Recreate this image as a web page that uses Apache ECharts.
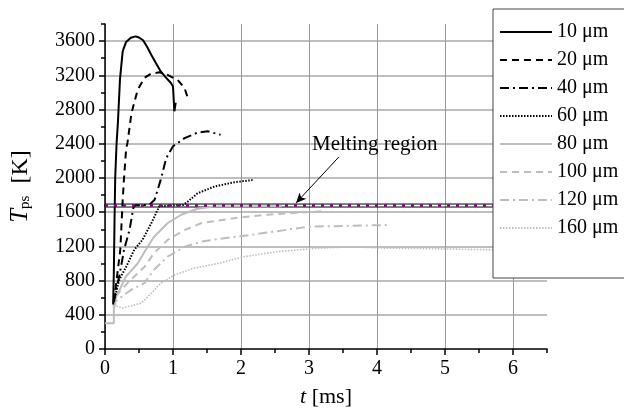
<!DOCTYPE html>
<html><head><meta charset="utf-8">
<script src="https://cdn.jsdelivr.net/npm/echarts@6/dist/echarts.min.js"></script>
<style>html,body{margin:0;padding:0;background:#fff}#c{width:624px;height:416px}</style>
</head><body><div id="c"></div>
<script>
const seriesNames = ['10 μm','20 μm','40 μm','60 μm','80 μm','100 μm','120 μm','160 μm'];
const xTicks = [0,1,2,3,4,5,6];
const yTicks = [0,400,800,1200,1600,2000,2400,2800,3200,3600];
const meltLow = 1660, meltHigh = 1695;
const d10 = [[0.12,520],[0.13,900],[0.14,1500],[0.15,2000],[0.17,2400],[0.19,2650],[0.22,3150],[0.26,3480],[0.31,3590],[0.38,3640],[0.45,3655],[0.5,3642],[0.56,3610],[0.62,3530],[0.68,3440],[0.75,3340],[0.82,3245],[0.9,3170],[0.97,3110],[1.0,3070],[1.02,2780],[1.04,2880]];
const d20 = [[0.13,550],[0.17,800],[0.2,1000],[0.225,1160],[0.26,1740],[0.28,2000],[0.31,2330],[0.33,2410],[0.39,2760],[0.48,3030],[0.58,3170],[0.68,3220],[0.8,3235],[0.92,3205],[1.07,3145],[1.17,3050],[1.22,2930]];
const d40 = [[0.13,550],[0.16,690],[0.21,850],[0.28,1160],[0.36,1390],[0.42,1660],[0.45,1680],[0.65,1685],[0.73,1745],[0.82,1980],[0.9,2230],[1.0,2370],[1.17,2465],[1.36,2530],[1.51,2545],[1.7,2505]];
const d60 = [[0.13,560],[0.16,650],[0.21,810],[0.31,960],[0.43,1160],[0.55,1275],[0.68,1470],[0.8,1670],[1.15,1685],[1.22,1725],[1.36,1820],[1.61,1900],[1.9,1950],[2.17,1975]];
const d80 = [[0,300],[0.13,300],[0.13,520],[0.16,600],[0.31,850],[0.48,1000],[0.6,1160],[0.72,1310],[0.92,1470],[1.12,1570],[1.36,1640],[1.6,1665],[2.6,1668]];
const d100 = [[0.13,480],[0.16,620],[0.33,770],[0.58,960],[0.72,1120],[0.92,1275],[1.17,1390],[1.41,1470],[1.9,1530],[2.39,1570],[2.88,1595],[3.2,1612]];
const d120 = [[0.13,480],[0.16,560],[0.38,690],[0.58,770],[0.72,925],[0.92,1080],[1.17,1195],[1.41,1255],[1.75,1295],[2.15,1335],[2.64,1390],[2.98,1430],[3.6,1440],[4.16,1450]];
const d160 = [[0.13,480],[0.17,500],[0.26,480],[0.53,535],[0.68,650],[0.82,770],[1.02,865],[1.31,945],[1.66,1000],[2.05,1080],[2.54,1140],[3.13,1178],[3.62,1195],[4.1,1180],[5.0,1170],[5.72,1160],[6.5,1160]];
const arrowFrom = [3.44,2246], arrowTo = [2.81,1708];

const datasets = [d10,d20,d40,d60,d80,d100,d120,d160];
const styles = [
  {color:'#000',type:'solid',width:2},
  {color:'#000',type:[7,5],width:2},
  {color:'#000',type:[9,4,2,4],width:2},
  {color:'#000',type:[1.5,1.5],width:2},
  {color:'#bdbdbd',type:'solid',width:2},
  {color:'#bdbdbd',type:[7,5],width:2},
  {color:'#bdbdbd',type:[9,4,2,4],width:2},
  {color:'#bdbdbd',type:[1.5,1.5],width:1.6}
];
const FF = 'Liberation Serif';
const series = datasets.map((d,i)=>({
  name: seriesNames[i], type:'line', data:d, symbol:'none', animation:false,
  lineStyle: styles[i], itemStyle:{color:styles[i].color}, z: i<4?4:3
}));
series.push({
  type:'line', data:[], xAxisIndex:0, yAxisIndex:0, animation:false, silent:true,
  markArea:{silent:true, itemStyle:{color:'rgba(255,255,255,0)',borderColor:'#000',borderWidth:1},
    data:[[{xAxis:0,yAxis:meltLow},{xAxis:6.5,yAxis:meltHigh}]]},
  markLine:{silent:true, symbol:'none', label:{show:false}, animation:false,
    data:[
      [{coord:[0,(meltLow+meltHigh)/2],lineStyle:{color:'#800080',type:[3,6],width:2.5}},{coord:[6.5,(meltLow+meltHigh)/2]}],
      [{coord:arrowFrom,symbol:'none',lineStyle:{color:'#000',type:'solid',width:1}},{coord:arrowTo,symbol:'arrow',symbolSize:[7,10]}]
    ]}
});
const chart = echarts.init(document.getElementById('c'),null,{renderer:'canvas'});
chart.setOption({
  animation:false,
  backgroundColor:'#fff',
  grid:{left:104,top:24,width:443,height:325,containLabel:false},
  legend:{data:seriesNames, orient:'vertical', left:499, top:22, padding:0, itemWidth:52, itemHeight:14, itemGap:8, z:10,
    itemStyle:{opacity:0},
    textStyle:{fontFamily:FF,fontSize:20,color:'#000',lineHeight:20}},
  xAxis:[{type:'value',min:0,max:6.5,interval:1,
    axisLine:{lineStyle:{color:'#000',width:1.5}},
    axisTick:{inside:false,length:6,lineStyle:{color:'#000',width:1.5}},
    axisLabel:{fontFamily:FF,fontSize:20,color:'#000',margin:10,showMaxLabel:false,formatter:v=>String(v)},
    splitLine:{show:true,showMaxLine:false,lineStyle:{color:'#9a9a9a',width:1}},
    name:'{i|t} [ms]', nameLocation:'middle', nameGap:37,
    nameTextStyle:{fontFamily:FF,fontSize:22,color:'#000',rich:{i:{fontFamily:FF,fontSize:22,fontStyle:'italic',color:'#000'}}}
  },{type:'value',min:0,max:6.5,interval:0.5,gridIndex:0,
    axisLine:{show:false},axisTick:{length:4,lineStyle:{color:'#000',width:1.5}},axisLabel:{show:false},splitLine:{show:false},position:'bottom'}],
  yAxis:[{type:'value',min:0,max:3800,interval:400,
    axisLine:{show:true,lineStyle:{color:'#000',width:1.5}},
    axisTick:{show:true,length:6,lineStyle:{color:'#000',width:1.5}},
    axisLabel:{fontFamily:FF,fontSize:20,color:'#000',margin:10,showMaxLabel:false,formatter:v=>String(v)},
    splitLine:{show:true,showMaxLine:false,showMinLine:false,lineStyle:{color:'#a8a8a8',width:1.5}},
    name:'{i|T}{s|ps}  [K]', nameLocation:'middle', nameGap:72,
    nameTextStyle:{fontFamily:FF,fontSize:24,color:'#000',rich:{i:{fontFamily:FF,fontSize:25,fontStyle:'italic',color:'#000'},s:{fontFamily:FF,fontSize:15,color:'#000',verticalAlign:'bottom',padding:[10,0,0,0]}}}
  },{type:'value',min:0,max:3800,interval:200,gridIndex:0,position:'left',
    axisLine:{show:false},axisTick:{show:true,length:4,lineStyle:{color:'#000',width:1.5}},axisLabel:{show:false},splitLine:{show:false}}],
  graphic:[
    {type:'rect',z:8,shape:{x:493,y:9,width:140,height:269},style:{fill:'#fff',stroke:'#444',lineWidth:1}},
    {type:'text',z:8,x:312,y:134,style:{text:'Melting region',fontFamily:FF,fontSize:21,fill:'#000'}}
  ],
  series:series
});
</script></body></html>
